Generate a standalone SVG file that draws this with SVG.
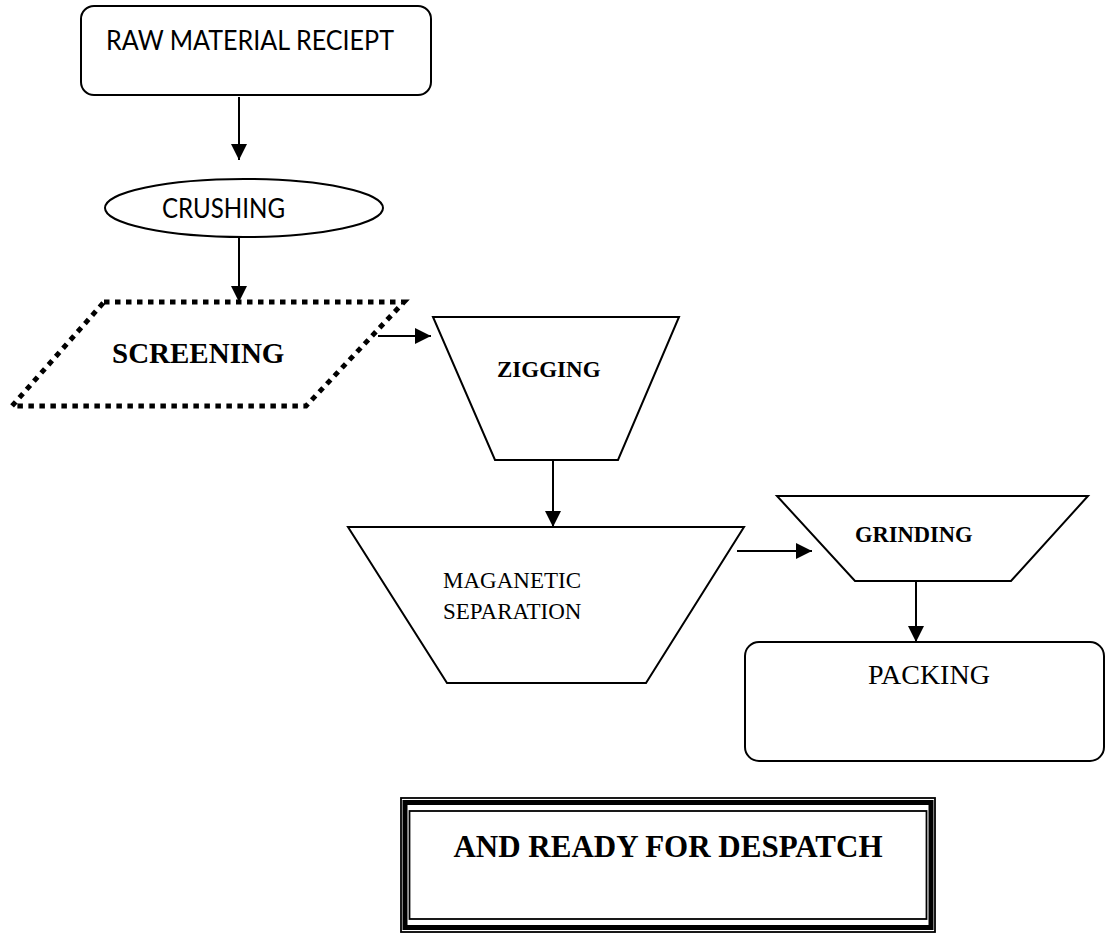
<svg xmlns="http://www.w3.org/2000/svg" width="1106" height="933" viewBox="0 0 1106 933">
<style>
.sh{fill:#fff;stroke:#000;stroke-width:2}
.cal{font-family:Lato,"Open Sans","Liberation Sans",sans-serif;fill:#000}
.tr{font-family:"Liberation Serif","Times New Roman",serif;fill:#000}
.b{font-weight:bold}
.cn{stroke:#000;stroke-width:2;fill:none}
</style>
<defs>
<marker id="ah" markerWidth="16" markerHeight="16" viewBox="0 0 16 16" refX="16" refY="8" orient="auto" markerUnits="userSpaceOnUse">
<path d="M0,0 L16,8 L0,16 Z" fill="#000"/>
</marker>
</defs>
<rect width="1106" height="933" fill="#fff"/>
<g id="raw">
<rect class="sh" x="81" y="6" width="350" height="89" rx="13"/>
<text class="cal" x="106" y="50" font-size="26" textLength="288" lengthAdjust="spacingAndGlyphs">RAW MATERIAL RECIEPT</text>
</g>
<g id="crushing">
<ellipse class="sh" cx="244" cy="208" rx="139" ry="29"/>
<text class="cal" x="162" y="218" font-size="26" textLength="123" lengthAdjust="spacingAndGlyphs">CRUSHING</text>
</g>
<g id="screening">
<polygon points="104,302 404,302 306,406 12,406" fill="#fff" stroke="#000" stroke-width="5" stroke-dasharray="5.5 5.5"/>
<text class="tr b" x="112" y="363" font-size="29">SCREENING</text>
</g>
<g id="zigging">
<polygon class="sh" points="433,317 679,317 618,460 495,460"/>
<text class="tr b" x="497" y="377" font-size="23">ZIGGING</text>
</g>
<g id="magnetic">
<polygon class="sh" points="348,527 744,527 646,683 447,683"/>
<text class="tr" x="443" y="588" font-size="23">MAGANETIC</text>
<text class="tr" x="443" y="619" font-size="23">SEPARATION</text>
</g>
<g id="grinding">
<polygon class="sh" points="777,496 1088,496 1011,581 855,581"/>
<text class="tr b" x="855" y="542" font-size="22.5">GRINDING</text>
</g>
<g id="packing">
<rect class="sh" x="745" y="642" width="359" height="119" rx="14"/>
<text class="tr" x="868" y="684" font-size="28">PACKING</text>
</g>
<g id="despatch">
<rect x="401" y="798" width="534" height="134" fill="#fff" stroke="#000" stroke-width="1.8"/>
<rect x="405" y="802.5" width="526" height="125" fill="none" stroke="#000" stroke-width="5"/>
<rect x="409.5" y="811" width="517" height="108" fill="none" stroke="#000" stroke-width="1.8"/>
<text class="tr b" x="668" y="857" font-size="31" text-anchor="middle">AND READY FOR DESPATCH</text>
</g>
<g id="connectors">
<line class="cn" x1="239" y1="97" x2="239" y2="160" marker-end="url(#ah)"/>
<line class="cn" x1="239" y1="237" x2="239" y2="302" marker-end="url(#ah)"/>
<line class="cn" x1="378" y1="336" x2="431" y2="336" marker-end="url(#ah)"/>
<line class="cn" x1="553" y1="460" x2="553" y2="527" marker-end="url(#ah)"/>
<line class="cn" x1="737" y1="551" x2="812" y2="551" marker-end="url(#ah)"/>
<line class="cn" x1="916" y1="581" x2="916" y2="642" marker-end="url(#ah)"/>
</g>
</svg>
